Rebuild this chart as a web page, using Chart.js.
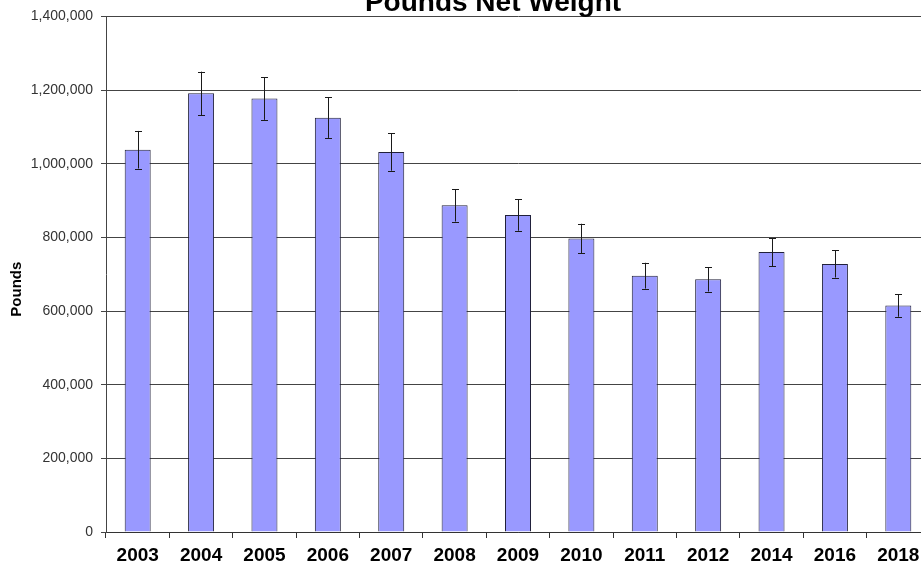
<!DOCTYPE html>
<html>
<head>
<meta charset="utf-8">
<script src="https://cdn.jsdelivr.net/npm/chart.js@4/dist/chart.umd.min.js"></script>
<style>
    body { margin: 0; overflow: hidden; background: #fff; }
    #wrap { width: 932px; height: 565px; }
</style>
</head>
<body>
<div id="wrap"><canvas id="chart" width="932" height="565"></canvas></div>
<script>
// values
const years = ['2003', '2004', '2005', '2006', '2007', '2008', '2009', '2010', '2011', '2012', '2014', '2016', '2018'];
const pounds = [1038000, 1191000, 1177000, 1125000, 1032000, 887000, 861000, 797000, 696000, 686000, 760000, 728000, 615000];
const errors = [51000, 59000, 58000, 55000, 51000, 44000, 43000, 40000, 35000, 33000, 38000, 37000, 30500];
const yTicks = [0, 200000, 400000, 600000, 800000, 1000000, 1200000, 1400000];

const chartTitle = 'Pounds Net Weight';
const yTitle = 'Pounds';

// draws the error bars, the (cut off) title and the y title
const extras = {
    id: 'extras',
    afterDatasetsDraw(chart) {
        const ctx = chart.ctx;
        const x = chart.scales.x;
        const y = chart.scales.y;
        const area = chart.chartArea;
        ctx.save();
        ctx.strokeStyle = '#1a1a1a';
        ctx.lineWidth = 1;
        pounds.forEach((v, i) => {
            const px = Math.round(x.getPixelForValue(i)) + 0.5;
            const top = y.getPixelForValue(v + errors[i]);
            const bottom = y.getPixelForValue(v - errors[i]);
            ctx.beginPath();
            ctx.moveTo(px, top);
            ctx.lineTo(px, bottom);
            ctx.moveTo(px - 3.5, Math.round(top) + 0.5);
            ctx.lineTo(px + 3.5, Math.round(top) + 0.5);
            ctx.moveTo(px - 3.5, Math.round(bottom) + 0.5);
            ctx.lineTo(px + 3.5, Math.round(bottom) + 0.5);
            ctx.stroke();
        });

        ctx.fillStyle = '#000';
        ctx.font = 'bold 28px Arial, "Liberation Sans", sans-serif';
        ctx.textAlign = 'center';
        ctx.textBaseline = 'alphabetic';
        ctx.fillText(chartTitle, area.left + 387, area.top - 5);

        ctx.font = 'bold 15px Arial, "Liberation Sans", sans-serif';
        ctx.textBaseline = 'middle';
        ctx.translate(17, (area.top + area.bottom) / 2 + 15);
        ctx.rotate(-Math.PI / 2);
        ctx.fillText(yTitle, 0, 0);
        ctx.restore();
    }
};

const ctx = document.querySelector('#chart').getContext('2d');
const myChart = new Chart(ctx, {
    type: 'bar',
    data: {
        labels: years,
        datasets: [
            {
                data: pounds,
                backgroundColor: '#9999ff',
                borderColor: '#20203a',
                borderWidth: 1,
                barPercentage: 0.41,
                categoryPercentage: 1.0
            }
        ]
    },
    options: {
        responsive: false,
        animation: false,
        devicePixelRatio: 1,
        layout: {
            padding: { top: 15, right: 2, bottom: 0, left: 0 }
        },
        plugins: {
            legend: { display: false },
            tooltip: { enabled: false }
        },
        scales: {
            x: {
                grid: {
                    offset: true,
                    drawOnChartArea: false,
                    color: '#333',
                    tickLength: 6,
                    tickColor: '#333'
                },
                border: { color: '#333', width: 1 },
                ticks: {
                    color: '#000',
                    padding: 6,
                    maxRotation: 0,
                    autoSkip: false,
                    font: { family: 'Arial, "Liberation Sans", sans-serif', size: 19, weight: 'bold' }
                },
                afterFit(scale) {
                    scale.height = 33;
                }
            },
            y: {
                min: 0,
                max: 1400000,
                afterBuildTicks(scale) {
                    scale.ticks = yTicks.map(v => ({ value: v }));
                },
                grid: {
                    color: '#444',
                    lineWidth: 1,
                    tickLength: 5,
                    tickColor: '#444'
                },
                border: { color: '#444', width: 1 },
                ticks: {
                    color: '#333',
                    padding: 8,
                    callback: v => v.toLocaleString('en-US'),
                    font: { family: 'Arial, "Liberation Sans", sans-serif', size: 14 }
                },
                afterFit(scale) {
                    scale.width = 106;
                }
            }
        }
    },
    plugins: [extras]
});
</script>
</body>
</html>
